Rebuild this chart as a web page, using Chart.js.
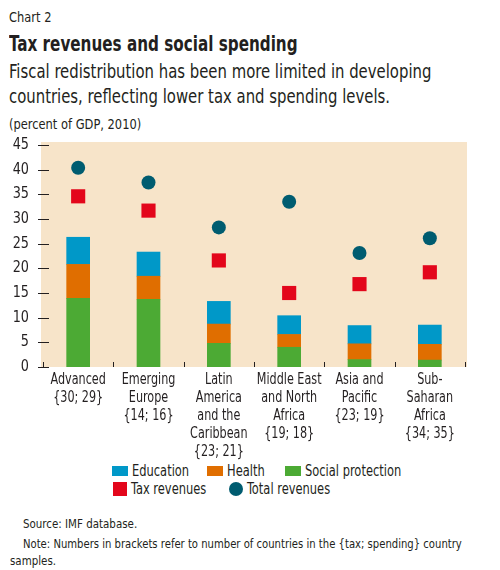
<!DOCTYPE html>
<html>
<head>
<meta charset="utf-8">
<script src="https://cdn.jsdelivr.net/npm/chart.js@4.4.1/dist/chart.umd.min.js"></script>
<style>
  body { margin: 0; width: 500px; height: 570px; background: #fff; position: relative; overflow: hidden;
         font-family: 'DejaVu Sans Condensed', 'Liberation Sans', sans-serif; color: #231f20; }
  .t { position: absolute; left: 9px; white-space: nowrap; transform-origin: left top; }
  #chartwrap { position: absolute; left: 0; top: 130px; width: 500px; height: 332px; }
  .leg { position: absolute; font-size: 15px; white-space: nowrap; line-height: 16px;
         transform: scaleX(0.85); transform-origin: left top; }
  .sw { position: absolute; }
</style>
</head>
<body>
<div class="t" style="top:9px;font-size:14px;transform:scaleX(0.91);">Chart 2</div>
<div class="t" style="top:32px;font-size:21px;font-weight:bold;transform:scaleX(0.805);">Tax revenues and social spending</div>
<div class="t" style="top:59px;font-size:19px;line-height:25px;transform:scaleX(0.87);">Fiscal redistribution has been more limited in developing<br>countries, reflecting lower tax and spending levels.</div>
<div class="t" style="top:116px;font-size:14px;transform:scaleX(0.91);">(percent of GDP, 2010)</div>

<div id="chartwrap"><canvas id="c" width="500" height="332"></canvas></div>

<div id="legend"></div>

<div class="t" style="top:516px;left:23px;font-size:13px;transform:scaleX(0.88);">Source: IMF database.</div>
<div class="t" style="top:536px;left:23px;font-size:13px;transform:scaleX(0.86);">Note: Numbers in brackets refer to number of countries in the {tax; spending} country</div>
<div class="t" style="top:553px;left:10px;font-size:13px;transform:scaleX(0.88);">samples.</div>

<script>
// regions with {tax; spending} sample sizes
const categories = [
  ['Advanced', '{30; 29}'],
  ['Emerging', 'Europe', '{14; 16}'],
  ['Latin', 'America', 'and the', 'Caribbean', '{23; 21}'],
  ['Middle East', 'and North', 'Africa', '{19; 18}'],
  ['Asia and', 'Pacific', '{23; 19}'],
  ['Sub-', 'Saharan', 'Africa', '{34; 35}']
];

// percent of GDP, 2010
const socialProtection = [13.9, 13.7, 4.8, 4.0, 1.5, 1.4];
const health = [6.9, 4.7, 3.9, 2.6, 3.2, 3.2];
const education = [5.5, 4.9, 4.6, 3.8, 3.7, 3.9];
const taxRevenues = [34.6, 31.7, 21.6, 15.0, 16.8, 19.2];
const totalRevenues = [40.4, 37.4, 28.3, 33.5, 23.1, 26.1];

const yTicks = [0, 5, 10, 15, 20, 25, 30, 35, 40, 45];

const colors = {
  education: '#0098c8',
  health: '#e06e00',
  social: '#4caa34',
  tax: '#e3061b',
  total: '#005c70',
  bg: '#f7e4c9',
  text: '#231f20'
};

const font = "'DejaVu Sans Condensed', 'Liberation Sans', sans-serif";

const canvas = document.getElementById('c');
const ctx = canvas.getContext('2d');

// no narrow font installed: squeeze canvas text around its anchor
const rawFillText = ctx.fillText;
ctx.fillText = function (text, x, y) {
  const k = this.textAlign === 'right' ? 0.95 : 0.83;
  this.save();
  this.translate(x, y);
  this.scale(k, 1);
  rawFillText.call(this, text, 0, 0);
  this.restore();
};

const plotBackground = {
  id: 'plotBackground',
  beforeDraw(chart) {
    const a = chart.chartArea;
    const c = chart.ctx;
    c.save();
    c.fillStyle = colors.bg;
    c.fillRect(a.left - 2, a.top - 3, a.right - a.left + 4, a.bottom - a.top + 3);
    c.restore();
  }
};

// tick marks: y ticks straddle the left edge, category separators stand up from the base
const tickMarks = {
  id: 'tickMarks',
  afterDraw(chart) {
    const x = chart.scales.x;
    const y = chart.scales.y;
    const a = chart.chartArea;
    const c = chart.ctx;
    c.save();
    c.strokeStyle = colors.text;
    c.lineWidth = 1;
    c.beginPath();
    for (let i = 0; i <= categories.length; i++) {
      const px = Math.round(x.getPixelForValue(i - 0.5)) + 0.5;
      c.moveTo(px, a.bottom - 5);
      c.lineTo(px, a.bottom);
    }
    yTicks.forEach(v => {
      const py = Math.round(y.getPixelForValue(v)) + 0.5;
      c.moveTo(a.left - 5, py);
      c.lineTo(a.left + 6, py);
    });
    c.stroke();
    c.restore();
  }
};

new Chart(canvas, {
  data: {
    labels: categories,
    datasets: [
      { type: 'line', label: 'Total revenues', data: totalRevenues, stack: 'total', showLine: false,
        pointStyle: 'circle', pointRadius: 7, pointHoverRadius: 7,
        pointBackgroundColor: colors.total, pointBorderWidth: 0, borderColor: colors.total },
      { type: 'line', label: 'Tax revenues', data: taxRevenues, stack: 'tax', showLine: false,
        pointStyle: 'rect', pointRadius: 10, pointHoverRadius: 10,
        pointBackgroundColor: colors.tax, pointBorderWidth: 0, borderColor: colors.tax },
      { type: 'bar', label: 'Social protection', data: socialProtection, stack: 'spend',
        backgroundColor: colors.social, barThickness: 23 },
      { type: 'bar', label: 'Health', data: health, stack: 'spend',
        backgroundColor: colors.health, barThickness: 23 },
      { type: 'bar', label: 'Education', data: education, stack: 'spend',
        backgroundColor: colors.education, barThickness: 23 }
    ]
  },
  options: {
    responsive: false,
    animation: false,
    layout: { padding: { left: 0, right: 35, top: 14, bottom: 0 } },
    plugins: {
      legend: { display: false },
      tooltip: { enabled: false }
    },
    scales: {
      x: {
        stacked: true,
        offset: true,
        border: { display: false },
        grid: { display: false },
        ticks: { color: colors.text, padding: -4, maxRotation: 0, autoSkip: false,
                 font: { family: font, size: 15, lineHeight: '18px' } },
        afterFit(s) { s.height = 95; }
      },
      y: {
        stacked: true,
        min: 0,
        max: 45,
        border: { display: false },
        grid: { display: false },
        afterBuildTicks(s) { s.ticks = yTicks.map(v => ({ value: v })); },
        ticks: { color: colors.text, padding: 6, font: { family: font, size: 15 } },
        afterFit(s) { s.width = 43; }
      }
    }
  },
  plugins: [plotBackground, tickMarks]
});

// legend
const legendItems = [
  { label: 'Education', color: colors.education, shape: 'bar', x: 112, y: 466 },
  { label: 'Health', color: colors.health, shape: 'bar', x: 207, y: 466 },
  { label: 'Social protection', color: colors.social, shape: 'bar', x: 285, y: 466 },
  { label: 'Tax revenues', color: colors.tax, shape: 'square', x: 113, y: 482 },
  { label: 'Total revenues', color: colors.total, shape: 'circle', x: 229, y: 482 }
];
const legendEl = document.getElementById('legend');
legendItems.forEach(it => {
  const sw = document.createElement('div');
  sw.className = 'sw';
  let w = 16, h = 10, r = 0;
  if (it.shape === 'square') { w = 14; h = 14; }
  if (it.shape === 'circle') { w = 14; h = 14; r = 7; }
  sw.style.cssText = `left:${it.x}px;top:${it.y}px;width:${w}px;height:${h}px;background:${it.color};border-radius:${r}px;`;
  legendEl.appendChild(sw);
  const tx = document.createElement('div');
  tx.className = 'leg';
  tx.textContent = it.label;
  tx.style.left = (it.x + w + 4) + 'px';
  tx.style.top = (it.y + h / 2 - 8) + 'px';
  legendEl.appendChild(tx);
});
</script>
</body>
</html>
